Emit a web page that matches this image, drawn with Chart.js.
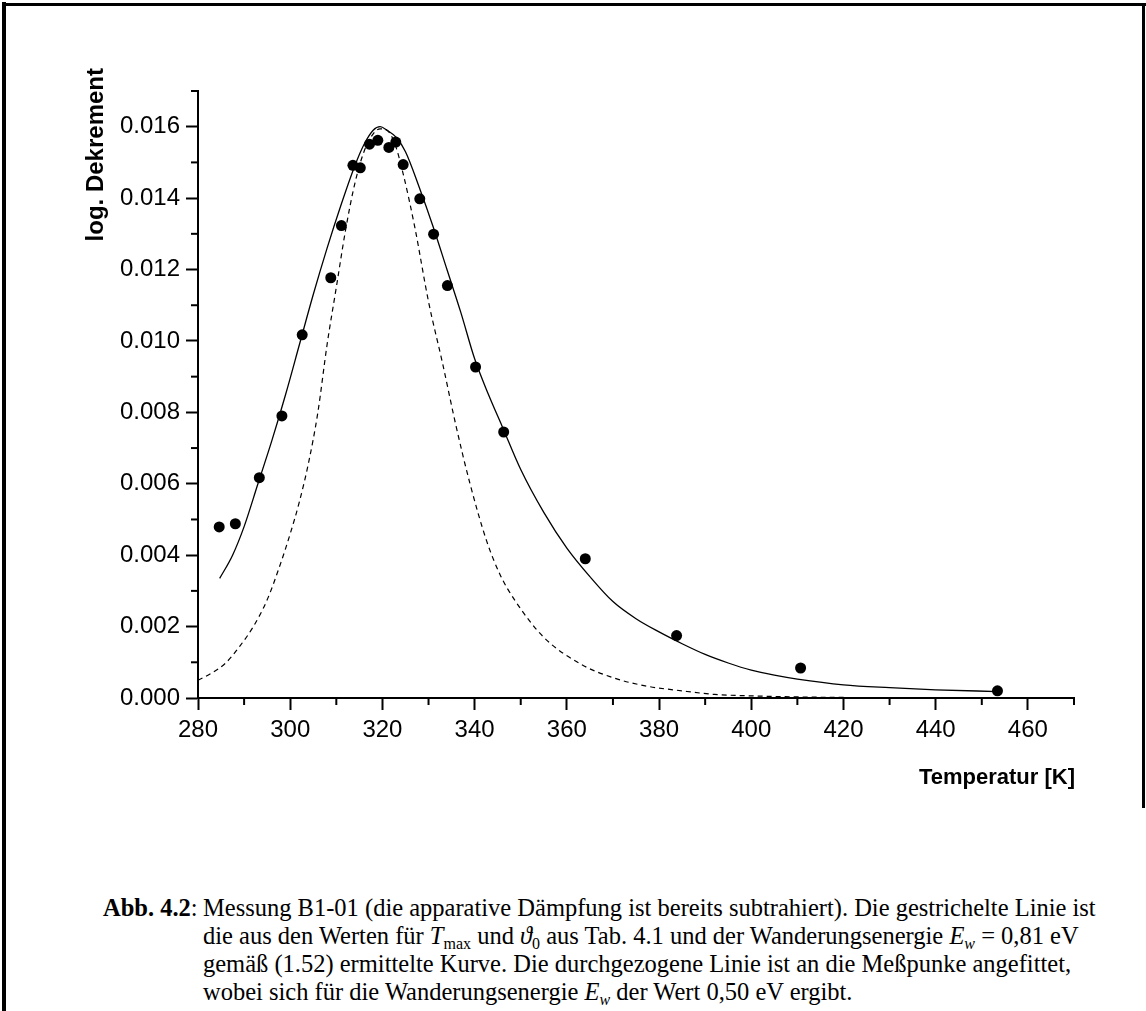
<!DOCTYPE html>
<html>
<head>
<meta charset="utf-8">
<script src="https://cdn.jsdelivr.net/npm/chart.js@4.4.1/dist/chart.umd.min.js"></script>
<style>
  body { margin: 0; background: #fff; width: 1146px; height: 1011px; position: relative; overflow: hidden; }
  #wrap { position: absolute; left: 0; top: 0; width: 1146px; height: 800px; }
  .frame { position: absolute; background: #000; }
  #caption {
    position: absolute; left: 103px; top: 894px;
    font-family: "Liberation Serif", "Times New Roman", serif;
    font-size: 24.5px; line-height: 28px; white-space: nowrap; display: flex;
  }
  #caption .lab { width: 100px; }
  sub { font-size: 16px; line-height: 0; vertical-align: -5px; }
</style>
</head>
<body>
<div class="frame" style="left:2px; top:2px; width:4px; height:1009px;"></div>
<div class="frame" style="left:2px; top:3px; width:1144px; height:3px;"></div>
<div class="frame" style="left:1142px; top:3px; width:3px; height:805px;"></div>

<div id="wrap"><canvas id="chart" width="1146" height="800"></canvas></div>

<div id="caption">
  <div class="lab"><b>Abb. 4.2</b>:</div>
  <div>
    Messung B1-01 (die apparative Dämpfung ist bereits subtrahiert). Die gestrichelte Linie ist<br>
    die aus den Werten für <i>T</i><sub>max</sub> und <i>ϑ</i><sub>0</sub> aus Tab. 4.1 und der Wanderungsenergie <i>E<sub>w</sub></i> = 0,81 eV<br>
    gemäß (1.52) ermittelte Kurve. Die durchgezogene Linie ist an die Meßpunke angefittet,<br>
    wobei sich für die Wanderungsenergie <i>E<sub>w</sub></i> der Wert 0,50 eV ergibt.
  </div>
</div>

<script>
// measured points (temperature in K, log. decrement)
const measT = [284.6, 288.1, 293.3, 298.2, 302.6, 308.8, 311.1, 313.6, 315.2, 317.2, 319.0, 321.4,
               322.9, 324.5, 328.1, 331.1, 334.1, 340.2, 346.3, 364.0, 383.8, 410.7, 453.4];
const measD = [0.00479, 0.00488, 0.00617, 0.0079, 0.01017, 0.01177, 0.01323, 0.01492, 0.01485, 0.01551, 0.01562, 0.01542,
               0.01557, 0.01494, 0.01398, 0.01299, 0.01155, 0.00927, 0.00745, 0.0039, 0.00175, 0.00084, 0.0002];

// solid line: fitted curve (E_w = 0.50 eV)
const fitT = [284.7, 287.5, 290, 293, 296, 299, 302, 305, 308, 311, 314, 316, 318, 319.5, 321, 323, 325, 328,
              331, 334, 337, 340, 343, 346, 350, 355, 360, 365, 370, 375, 380, 385, 390, 395, 400, 405, 410, 420, 430, 440, 453.5];
const fitD = [0.00335, 0.0040, 0.0048, 0.0060, 0.0072, 0.0085, 0.0099, 0.0113, 0.0126, 0.0138, 0.0149, 0.0155, 0.0159, 0.0160,
              0.0159, 0.0157, 0.0153, 0.0143, 0.0132, 0.0120, 0.0108, 0.0095, 0.0085, 0.0076, 0.0064, 0.0052, 0.0042, 0.0034,
              0.0027, 0.00222, 0.00185, 0.00152, 0.00122, 0.00098, 0.00078, 0.00064, 0.00053, 0.00037, 0.00029, 0.00023, 0.00018];

// dashed line: curve from T_max, theta_0 and E_w = 0.81 eV
const theoT = [280, 283, 286, 289, 292, 295, 298, 300, 302, 304, 306, 308, 310, 312, 314, 316, 318, 319.5, 321, 322.7,
               324.5, 327, 330, 333, 336, 339, 342.6, 345.5, 348.7, 355, 363, 370, 377, 385, 392, 400, 410, 425, 445];
const theoD = [0.0005, 0.0007, 0.00098, 0.00144, 0.0020, 0.00275, 0.0038, 0.0046, 0.0055, 0.0066, 0.0080, 0.0099, 0.0115,
               0.0131, 0.0144, 0.0153, 0.0158, 0.01594, 0.0159, 0.01552, 0.01468, 0.0132, 0.0111, 0.0094, 0.0076, 0.0060,
               0.0044, 0.00346, 0.00274, 0.0017, 0.00095, 0.00057, 0.00034, 0.0002, 0.0001, 0.00006, 0.00003, 0.00001, 0];

// labelled (major) ticks
const xTickLabels = [280, 300, 320, 340, 360, 380, 400, 420, 440, 460];
const yTickLabels = ["0.000", "0.002", "0.004", "0.006", "0.008", "0.010", "0.012", "0.014", "0.016"];

const xMajor = v => xTickLabels.includes(Math.round(v));
const yMajor = v => yTickLabels.includes(v.toFixed(3));

const toXY = (xs, ys) => xs.map((x, i) => ({ x, y: ys[i] }));

// minor ticks + axis titles (Origin style)
const extras = {
  id: "extras",
  afterDraw(chart) {
    const { ctx, chartArea, scales } = chart;
    ctx.save();
    ctx.strokeStyle = "#000";
    ctx.lineWidth = 2;
    scales.x.ticks.forEach(t => {
      if (xMajor(t.value)) return;
      const px = scales.x.getPixelForValue(t.value);
      ctx.beginPath(); ctx.moveTo(px, chartArea.bottom); ctx.lineTo(px, chartArea.bottom + 7); ctx.stroke();
    });
    scales.y.ticks.forEach(t => {
      if (yMajor(t.value)) return;
      const py = scales.y.getPixelForValue(t.value);
      ctx.beginPath(); ctx.moveTo(chartArea.left, py); ctx.lineTo(chartArea.left - 7, py); ctx.stroke();
    });

    ctx.fillStyle = "#000";
    ctx.font = "bold 22px 'Liberation Sans', Arial, sans-serif";
    ctx.textAlign = "right";
    ctx.textBaseline = "alphabetic";
    ctx.fillText("Temperatur [K]", chartArea.right + 1, 784);

    ctx.translate(103, 68);
    ctx.rotate(-Math.PI / 2);
    ctx.font = "bold 24px 'Liberation Sans', Arial, sans-serif";
    ctx.textAlign = "right";
    ctx.fillText("log. Dekrement", 0, 0);
    ctx.restore();
  }
};

const tickFont = { family: "'Liberation Sans', Arial, sans-serif", size: 24 };

new Chart(document.getElementById("chart"), {
  type: "scatter",
  data: {
    datasets: [
      {
        label: "Messpunkte",
        data: toXY(measT, measD),
        pointRadius: 5.5,
        pointBackgroundColor: "#000",
        pointBorderWidth: 0,
        showLine: false
      },
      {
        label: "Fit",
        data: toXY(fitT, fitD),
        showLine: true,
        borderColor: "#000",
        borderWidth: 1.3,
        pointRadius: 0,
        cubicInterpolationMode: "monotone"
      },
      {
        label: "berechnet",
        data: toXY(theoT, theoD),
        showLine: true,
        borderColor: "#000",
        borderWidth: 1.2,
        borderDash: [5, 4],
        pointRadius: 0,
        cubicInterpolationMode: "monotone"
      }
    ]
  },
  options: {
    responsive: false,
    animation: false,
    layout: { padding: { left: 0, top: 91, right: 72, bottom: 0 } },
    plugins: { legend: { display: false }, tooltip: { enabled: false } },
    scales: {
      x: {
        type: "linear",
        min: 280,
        max: 470,
        afterFit: s => { s.height = 102; },
        border: { color: "#000", width: 2 },
        grid: {
          drawOnChartArea: false,
          tickLength: 12,
          tickWidth: 2,
          tickColor: c => xMajor(c.tick.value) ? "#000" : "rgba(0,0,0,0)"
        },
        ticks: {
          stepSize: 10,
          autoSkip: false,
          maxRotation: 0,
          padding: 6,
          color: "#000",
          font: tickFont,
          callback: v => xMajor(v) ? String(Math.round(v)) : ""
        }
      },
      y: {
        type: "linear",
        min: 0,
        max: 0.017,
        afterFit: s => { s.width = 198; },
        border: { color: "#000", width: 2 },
        grid: {
          drawOnChartArea: false,
          tickLength: 12,
          tickWidth: 2,
          tickColor: c => yMajor(c.tick.value) ? "#000" : "rgba(0,0,0,0)"
        },
        ticks: {
          stepSize: 0.001,
          autoSkip: false,
          padding: 6,
          color: "#000",
          font: tickFont,
          callback: v => yMajor(v) ? v.toFixed(3) : ""
        }
      }
    }
  },
  plugins: [extras]
});
</script>
</body>
</html>
